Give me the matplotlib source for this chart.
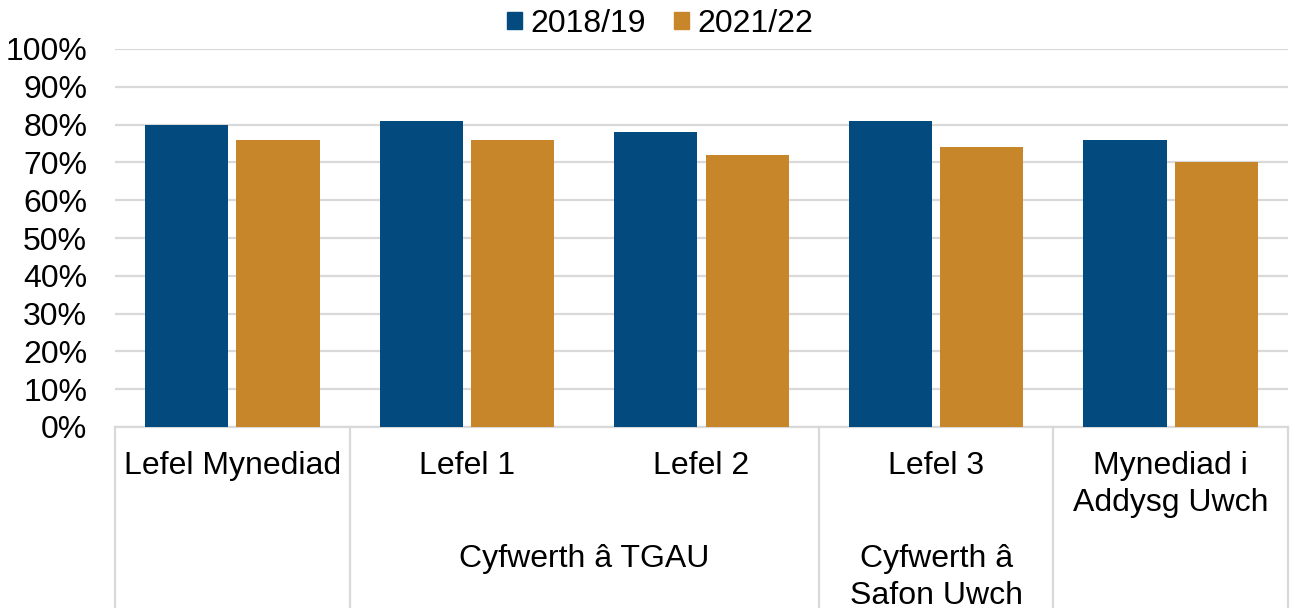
import matplotlib
matplotlib.use("Agg")
import matplotlib.pyplot as plt
import numpy as np
from matplotlib.transforms import blended_transform_factory
from matplotlib.patches import Patch

categories = ["Lefel Mynediad", "Lefel 1", "Lefel 2", "Lefel 3", "Mynediad i\nAddysg Uwch"]
groups = [("Cyfwerth â TGAU", 1, 2), ("Cyfwerth â\nSafon Uwch", 3, 3)]
series_names = ["2018/19", "2021/22"]
values_1819 = [80, 81, 78, 81, 76]
values_2122 = [76, 76, 72, 74, 70]
yticks = list(range(0, 101, 10))

blue = "#034A7E"
orange = "#C8862A"
grid_c = "#D9D9D9"

plt.rcParams['font.family'] = ['Liberation Sans', 'DejaVu Sans']
W, H = 1291, 608
fig = plt.figure(figsize=(W / 100, H / 100), dpi=100)
left, right, top, bottom = 115, 1288, 49, 427
ax = fig.add_axes([left / W, 1 - bottom / H, (right - left) / W, (bottom - top) / H])

x = np.arange(len(categories))
bw = 0.355
off = 0.195
ax.bar(x - off, values_1819, bw, color=blue, zorder=3, label=series_names[0])
ax.bar(x + off, values_2122, bw, color=orange, zorder=3, label=series_names[1])

ax.set_xlim(-0.5, len(categories) - 0.5)
ax.set_ylim(0, 100)
ax.set_yticks(yticks)
ax.set_yticklabels([f"{t}%" for t in yticks], fontsize=23)
ax.tick_params(axis='y', length=0, pad=20)
ax.set_xticks([])
ax.grid(axis='y', color=grid_c, linewidth=1.6, zorder=0)
for s in ['top', 'right', 'left']:
    ax.spines[s].set_visible(False)
ax.spines['bottom'].set_color(grid_c)
ax.spines['bottom'].set_linewidth(1.6)

tr = blended_transform_factory(ax.transData, ax.transAxes)
axh = bottom - top
ybot = -(H - bottom) / axh
for xs in [-0.5, 0.5, 2.5, 3.5, 4.5]:
    ax.plot([xs, xs], [0, ybot], transform=tr, color=grid_c, linewidth=1.6, clip_on=False)

line_step = 36.5


def put(xc, base_px, text):
    for k, line in enumerate(text.split("\n")):
        yy = -(base_px + k * line_step - bottom) / axh
        ax.text(xc, yy, line, transform=tr, ha='center', va='baseline', fontsize=23)


for i, c in enumerate(categories):
    put(i, 474, c)
for name, a, b in groups:
    put((a + b) / 2, 567, name)

handles = [Patch(color=blue), Patch(color=orange)]
fig.legend(handles, series_names, loc='center', bbox_to_anchor=(660 / W, 1 - 24 / H), ncol=2,
           frameon=False, fontsize=23, handlelength=0.47, handleheight=0.47, handletextpad=0.25,
           columnspacing=0.9, borderpad=0, borderaxespad=0)

fig.savefig("out.png", dpi=100)
